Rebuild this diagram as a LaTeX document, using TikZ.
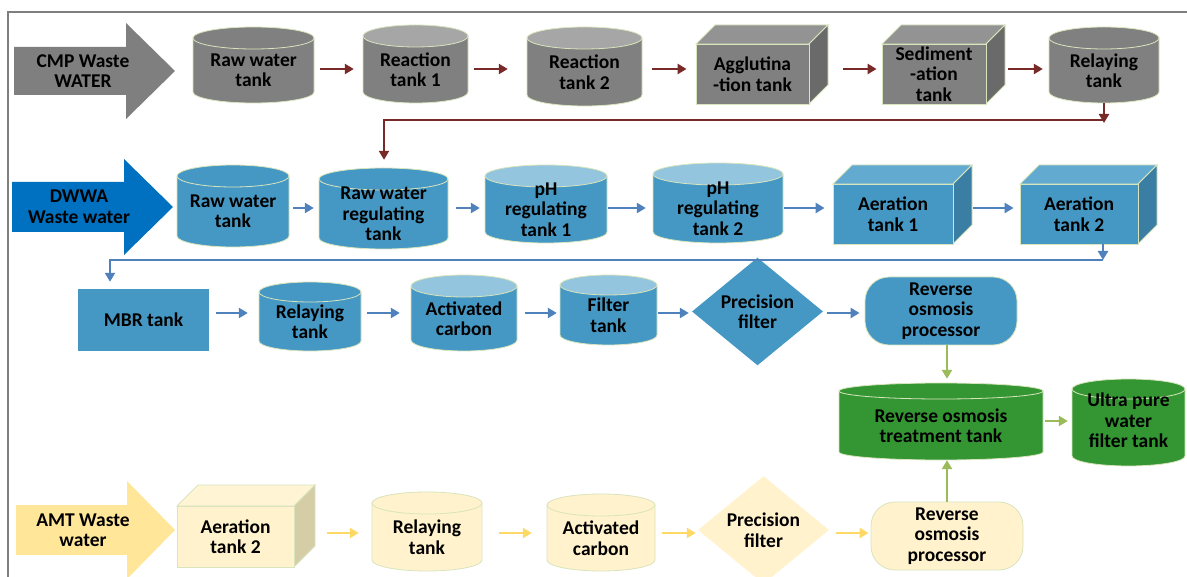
\documentclass[tikz,border=0pt]{standalone}
\usepackage{fontspec}
\setmainfont{Carlito}
\usetikzlibrary{arrows.meta, shapes.geometric}
\definecolor{framegray}{RGB}{127,127,127}
\definecolor{rimcolor}{RGB}{216,228,188}
\definecolor{cmpgray}{RGB}{127,127,127}
\definecolor{grbody}{RGB}{128,128,128}
\definecolor{grlid}{RGB}{166,166,166}
\definecolor{grtop}{RGB}{147,147,147}
\definecolor{grside}{RGB}{106,106,106}
\definecolor{grfront}{RGB}{128,128,128}
\definecolor{arrowred}{RGB}{120,42,40}
\definecolor{dwwablue}{RGB}{0,112,192}
\definecolor{blbody}{RGB}{70,152,196}
\definecolor{bllid}{RGB}{147,197,223}
\definecolor{bltop}{RGB}{98,170,208}
\definecolor{blside}{RGB}{58,126,164}
\definecolor{blfront}{RGB}{70,152,196}
\definecolor{arrowblue}{RGB}{79,129,189}
\definecolor{gnbody}{RGB}{51,150,51}
\definecolor{arrowgreen}{RGB}{155,187,89}
\definecolor{amtyellow}{RGB}{255,230,153}
\definecolor{ylbody}{RGB}{255,242,204}
\definecolor{yltop}{RGB}{255,244,212}
\definecolor{ylside}{RGB}{212,205,165}
\definecolor{ylfront}{RGB}{255,242,204}
\definecolor{arrowyellow}{RGB}{255,217,102}

\newcommand{\boxfont}{\fontsize{19.5}{20.5}\selectfont\bfseries}

% tank: name, left, right, top, bottom, lid radius, body colour, lid colour, text
\newcommand{\drawtank}[9]{%
  \filldraw[fill=#7, draw=rimcolor, line width=0.8pt]
    (#2,#4+#6) -- (#2,#5-#6)
    arc[start angle=180, end angle=0, x radius={(#3-#2)/2}, y radius=#6]
    -- (#3,#4+#6) -- cycle;
  \filldraw[fill=#8, draw=rimcolor, line width=0.8pt]
    ({(#2+#3)/2},#4+#6) ellipse[x radius={(#3-#2)/2}, y radius=#6];
  \node[tanklabel, minimum width={#3-#2}, minimum height={#5-#4-#6}] (#1)
    at ({(#2+#3)/2},{(#4+#6+#5)/2}) {#9};
}

% cube: name, left, right, top, bottom, depth, colour set, text
\newcommand{\drawcube}[8]{%
  \filldraw[fill=#7top, draw=rimcolor, line width=0.8pt]
    (#2,#4) -- (#2+#6,#4-#6) -- (#3+#6,#4-#6) -- (#3,#4) -- cycle;
  \filldraw[fill=#7side, draw=rimcolor, line width=0.8pt]
    (#3,#4) -- (#3+#6,#4-#6) -- (#3+#6,#5-#6) -- (#3,#5) -- cycle;
  \node[cubeface, fill=#7front, minimum width={#3-#2}, minimum height={#5-#4}] (#1)
    at ({(#2+#3)/2},{(#4+#5)/2}) {#8};
}

\begin{document}
\begin{tikzpicture}[
    x=1pt, y=-1pt,
    tanklabel/.style={inner sep=0pt, align=center, font=\boxfont},
    cubeface/.style={draw=rimcolor, line width=0.8pt, inner sep=0pt, align=center, font=\boxfont},
    flatbox/.style={fill=blbody, inner sep=0pt, align=center, font=\boxfont},
    valve/.style={diamond, inner sep=0pt, minimum width=131pt, minimum height=87pt, align=center, font=\boxfont},
    processor/.style={draw=rimcolor, line width=0.8pt, rounded corners=24pt, minimum width=152pt, minimum height=68pt, inner sep=0pt, align=center, font=\boxfont},
    redarrow/.style={draw=arrowred, line width=2.6pt, -{Triangle[length=9pt, width=10pt]}},
    bluearrow/.style={draw=arrowblue, line width=2.8pt, -{Triangle[length=9pt, width=10pt]}},
    greenarrow/.style={draw=arrowgreen, line width=2.8pt, -{Triangle[length=9pt, width=10pt]}},
    yellowarrow/.style={draw=arrowyellow, line width=2.8pt, -{Triangle[length=9pt, width=10pt]}}
]
    \useasboundingbox (0,0) rectangle (1187,577);

    % Frame
    \draw[framegray, line width=1.5pt] (1187,12) -- (8,12) -- (8,577);

    % Heights of the connectors in each row
    \coordinate (row1) at (0,69);
    \coordinate (row2) at (0,208);
    \coordinate (row3) at (0,313);
    \coordinate (row4) at (0,533);
    \coordinate (row5) at (0,421);

    % CMP waste water
    \fill[cmpgray] (14,47) -- (126,47) -- (126,23) -- (175,71) -- (126,119) -- (126,95) -- (14,95) -- cycle;
    \node[tanklabel] (cmp) at (83,71) {CMP Waste\\WATER};
    \drawtank{raw1}{193}{314}{27}{103}{11}{grbody}{grbody}{Raw water\\tank}
    \drawtank{react1}{363}{468}{25}{103}{11}{grbody}{grlid}{Reaction\\tank 1}
    \drawtank{react2}{527}{642}{27}{106}{11}{grbody}{grlid}{Reaction\\tank 2}
    \drawcube{agglu}{696}{809}{44}{104}{19}{gr}{Agglutina\\-tion tank}
    \drawcube{sedim}{882}{986}{44}{104}{19}{gr}{Sediment\\-ation\\tank}
    \drawtank{relay1}{1049}{1159}{27}{103}{11}{grbody}{grbody}{Relaying\\tank}

    % DWWA waste water
    \fill[dwwablue] (12,182) -- (124,182) -- (124,159) -- (173,207) -- (124,255) -- (124,232) -- (12,232) -- cycle;
    \node[tanklabel] (dwwa) at (79,207) {DWWA\\Waste water};
    \drawtank{raw2}{177}{289}{165}{247}{11}{blbody}{blbody}{Raw water\\tank}
    \drawtank{rwreg}{319}{448}{168}{249}{11}{blbody}{blbody}{Raw water\\regulating\\tank}
    \drawtank{ph1}{485}{607}{165}{243}{11}{blbody}{bllid}{pH\\regulating\\tank 1}
    \drawtank{ph2}{653}{783}{163}{243}{11}{blbody}{bllid}{pH\\regulating\\tank 2}
    \drawcube{aer1}{833}{953}{184}{244}{19}{bl}{Aeration\\tank 1}
    \drawcube{aer2}{1020}{1138}{184}{244}{19}{bl}{Aeration\\tank 2}

    % MBR line
    \node[flatbox, minimum width=131pt, minimum height=62pt] (mbr) at (143.5,320) {MBR tank};
    \drawtank{relay2}{259}{361}{282}{351}{10}{blbody}{blbody}{Relaying\\tank}
    \drawtank{actc1}{411}{517}{275}{351}{11}{blbody}{bllid}{Activated\\carbon}
    \drawtank{filt}{560}{657}{275}{345}{10}{blbody}{bllid}{Filter\\tank}
    \node[valve, fill=blbody] (prec1) at (757.5,311.5) {Precision\\filter};
    \node[processor, fill=blbody] (roproc1) at (941,311) {Reverse\\osmosis\\processor};

    % Reverse osmosis
    \drawtank{rotank}{839}{1043}{383}{460}{8}{gnbody}{gnbody}{Reverse osmosis\\treatment tank}
    \drawtank{upure}{1072}{1185}{379}{466}{10}{gnbody}{gnbody}{Ultra pure\\water\\filter tank\\[-12pt]\strut}

    % AMT waste water
    \fill[amtyellow] (16,505) -- (127,505) -- (127,481) -- (175,530) -- (127,579) -- (127,555) -- (16,555) -- cycle;
    \node[tanklabel] (amt) at (83,530) {AMT Waste\\water};
    \drawcube{aery}{177}{294}{506}{567}{21}{yl}{Aeration\\tank 2}
    \drawtank{relay3}{372}{482}{492}{571}{11}{ylbody}{ylbody}{Relaying\\tank}
    \drawtank{actc2}{547}{655}{494}{571}{11}{ylbody}{ylbody}{Activated\\carbon}
    \node[valve, fill=ylbody] (prec2) at (763.5,530) {Precision\\filter};
    \node[processor, fill=ylbody] (roproc2) at (947,536) {Reverse\\osmosis\\processor};

    % Red arrows
    \draw[redarrow, shorten <=6pt, shorten >=9pt] (raw1.east |- row1) -- (react1.west |- row1);
    \draw[redarrow, shorten <=6pt, shorten >=19pt] (react1.east |- row1) -- (react2.west |- row1);
    \draw[redarrow, shorten <=10pt, shorten >=9pt] (react2.east |- row1) -- (agglu.west |- row1);
    \draw[redarrow, shorten <=34pt, shorten >=5pt] (agglu.east |- row1) -- (sedim.west |- row1);
    \draw[redarrow, shorten <=22pt, shorten >=6pt] (sedim.east |- row1) -- (relay1.west |- row1);
    \coordinate (rturn) at (1104,120);
    \coordinate (rleft) at (384,120);
    \draw[redarrow, shorten >=-3pt] (relay1.south) -- (relay1.south |- rturn);
    \draw[redarrow, line width=2.8pt, shorten >=19pt] (rturn) -- (rleft) -- (rleft |- rwreg.north);

    % Blue arrows
    \draw[bluearrow, shorten <=4pt, shorten >=5pt] (raw2.east |- row2) -- (rwreg.west |- row2);
    \draw[bluearrow, shorten <=8pt, shorten >=5pt] (rwreg.east |- row2) -- (ph1.west |- row2);
    \draw[bluearrow, shorten <=1pt, shorten >=7pt] (ph1.east |- row2) -- (ph2.west |- row2);
    \draw[bluearrow, shorten <=1pt, shorten >=8pt] (ph2.east |- row2) -- (aer1.west |- row2);
    \draw[bluearrow, shorten <=20pt, shorten >=6pt] (aer1.east |- row2) -- (aer2.west |- row2);
    \coordinate (bturn) at (1103,260);
    \coordinate (bleft) at (110,260);
    \draw[bluearrow] (aer2.south -| bturn) -- (bturn);
    \draw[bluearrow, line width=2.8pt, shorten >=7pt] (bturn) -- (bleft) -- (bleft |- mbr.north);
    \draw[bluearrow, shorten <=7pt, shorten >=11pt] (mbr.east |- row3) -- (relay2.west |- row3);
    \draw[bluearrow, shorten <=6pt, shorten >=11pt] (relay2.east |- row3) -- (actc1.west |- row3);
    \draw[bluearrow, shorten <=8pt, shorten >=3pt] (actc1.east |- row3) -- (filt.west |- row3);
    \draw[bluearrow, shorten <=1pt, shorten >=3pt] (filt.east |- row3) -- (prec1.west |- row3);
    \draw[bluearrow, shorten <=4pt, shorten >=5pt] (prec1.east |- row3) -- (roproc1.west |- row3);

    % Green arrows
    \coordinate (gx) at (947,0);
    \draw[greenarrow, shorten >=12pt] (roproc1.south -| gx) -- (rotank.north -| gx);
    \draw[greenarrow] (roproc2.north -| gx) -- (rotank.south -| gx);
    \draw[greenarrow, shorten <=2pt, shorten >=4pt] (rotank.east |- row5) -- (upure.west |- row5);

    % Yellow arrows
    \draw[yellowarrow, shorten <=33pt, shorten >=13pt] (aery.east |- row4) -- (relay3.west |- row4);
    \draw[yellowarrow, shorten <=17pt, shorten >=15pt] (relay3.east |- row4) -- (actc2.west |- row4);
    \draw[yellowarrow, shorten <=7pt, shorten >=2pt] (actc2.east |- row4) -- (prec2.west |- row4);
    \draw[yellowarrow, shorten <=7pt, shorten >=2pt] (prec2.east |- row4) -- (roproc2.west |- row4);
\end{tikzpicture}
\end{document}
